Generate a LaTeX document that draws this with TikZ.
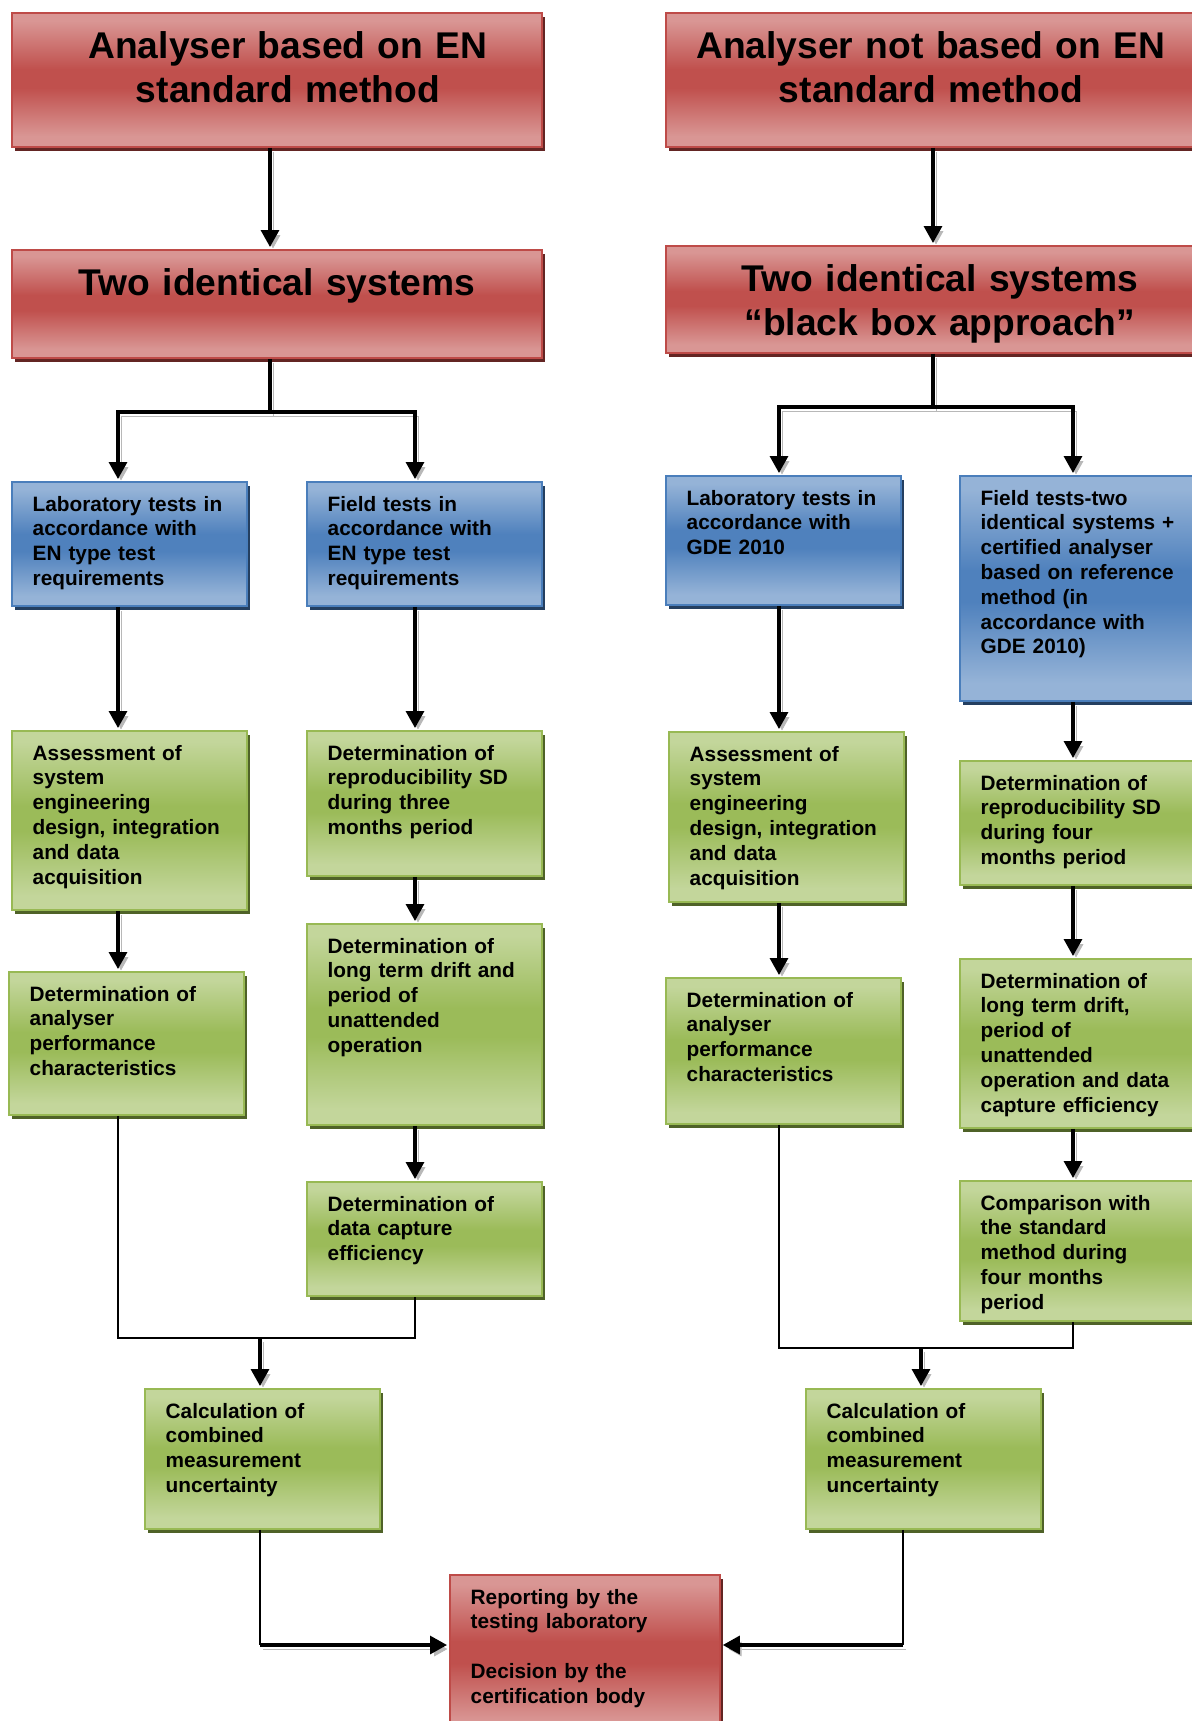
\documentclass[tikz,border=0pt]{standalone}
\usepackage{fontspec}
\setmainfont{Liberation Sans}
\usetikzlibrary{arrows.meta}
\usetikzlibrary{shadows}

\definecolor{redlt}{HTML}{D99694}
\definecolor{reddk}{HTML}{C0504D}
\definecolor{redln}{HTML}{BE4B48}
\definecolor{redsh}{HTML}{632523}
\definecolor{bluelt}{HTML}{95B3D7}
\definecolor{bluedk}{HTML}{4F81BD}
\definecolor{blueln}{HTML}{4A7EBB}
\definecolor{bluesh}{HTML}{243F60}
\definecolor{grnlt}{HTML}{C3D69B}
\definecolor{grndk}{HTML}{9BBB59}
\definecolor{grnln}{HTML}{98B954}
\definecolor{grnsh}{HTML}{4F6228}

\pgfdeclareverticalshading{redfade}{100bp}{color(0bp)=(redlt); color(29bp)=(redlt); color(47bp)=(reddk); color(54bp)=(reddk); color(72bp)=(redlt); color(100bp)=(redlt)}
\pgfdeclareverticalshading{bluefade}{100bp}{color(0bp)=(bluelt); color(29bp)=(bluelt); color(47bp)=(bluedk); color(54bp)=(bluedk); color(72bp)=(bluelt); color(100bp)=(bluelt)}
\pgfdeclareverticalshading{grnfade}{100bp}{color(0bp)=(grnlt); color(29bp)=(grnlt); color(47bp)=(grndk); color(54bp)=(grndk); color(72bp)=(grnlt); color(100bp)=(grnlt)}

\tikzset{
	box/.style = {
		rectangle,
		anchor=north west,
		inner xsep=10.4pt,
		inner ysep=6.6pt,
		text width=96.7pt,
		text height=8pt,
		align=left,
		line width=0.9pt,
		font=\fontsize{10.4}{12.4}\selectfont\bfseries
	},
	box_red/.style = {
		box,
		shade,
		shading=redfade,
		draw=redln,
		drop shadow={shadow xshift=1.5pt, shadow yshift=-2.2pt, fill=redsh, opacity=1}
	},
	box_blue/.style = {
		box,
		shade,
		shading=bluefade,
		draw=blueln,
		drop shadow={shadow xshift=1.5pt, shadow yshift=-2.2pt, fill=bluesh, opacity=1}
	},
	box_green/.style = {
		box,
		shade,
		shading=grnfade,
		draw=grnln,
		drop shadow={shadow xshift=1.5pt, shadow yshift=-2.2pt, fill=grnsh, opacity=1}
	},
	box_head/.style = {
		box_red,
		inner ysep=9pt,
		text height=14pt,
		text width=244.2pt,
		align=center,
		font=\fontsize{18.6}{22}\selectfont\bfseries
	},
	box_wide/.style = {
		text width=114.2pt
	},
	line_s/.style = {
		line width=1.6pt,
		preaction={draw=black!28, transform canvas={xshift=1.5pt, yshift=-2pt}}
	},
	conn/.style = {
		line_s,
		->,
		shorten >=1pt
	},
	wire/.style = {
		line width=0.9pt
	},
}

\begin{document}
\begin{tikzpicture}[x=0.5pt, y=-0.5pt, >={Triangle[width=9pt,length=8.5pt]}]
\useasboundingbox (0,0) rectangle (1192,1721);
\clip (0,0) rectangle (1192,1721);

% left side: EN standard method
\node [box_head, text depth=35pt] (r1) at (11,12) {\hspace*{11pt}Analyser based on EN\\\hspace*{11pt}standard method};
\node [box_head, text depth=22pt] (r2) at (11,249) {Two identical systems};
\node [box_blue, text depth=40.8pt] (b1) at (11,481) {Laboratory tests in\\accordance with\\EN type test\\requirements};
\node [box_blue, text depth=40.8pt] (b2) at (306,481) {Field tests in\\accordance with\\EN type test\\requirements};
\node [box_green, text depth=68.3pt] (g1) at (11,730) {Assessment of\\system\\engineering\\design, integration\\and data\\acquisition};
\node [box_green, text depth=50.3pt] (g2) at (8,971) {Determination of\\analyser\\performance\\characteristics};
\node [box_green, text depth=51.3pt] (g3) at (306,730) {Determination of\\reproducibility SD\\during three\\months period};
\node [box_green, text depth=79.3pt] (g4) at (306,923) {Determination of\\long term drift and\\period of\\unattended\\operation};
\node [box_green, text depth=35.8pt] (g5) at (306,1181) {Determination of\\data capture\\efficiency};
\node [box_green, text depth=48.8pt] (g6) at (144,1388) {Calculation of\\combined\\measurement\\uncertainty};

% right side: black box approach
\node [box_head, text depth=35pt] (r4) at (665,12) {Analyser not based on EN\\standard method};
\node [box_head, text depth=21.5pt] (r5) at (665,245) {\hspace*{9pt}Two identical systems\\\hspace*{9pt}“black box approach”};
\node [box_blue, text depth=43.3pt] (b3) at (665,475) {Laboratory tests in\\accordance with\\GDE 2010};
\node [box_blue, text depth=91.3pt] (b4) at (959,475) {Field tests-two\\\mbox{identical systems +}\\certified analyser\\based on reference\\method (in\\accordance with\\GDE 2010)};
\node [box_green, text depth=63.8pt] (g7) at (668,731) {Assessment of\\system\\engineering\\design, integration\\and data\\acquisition};
\node [box_green, text depth=51.8pt] (g8) at (665,977) {Determination of\\analyser\\performance\\characteristics};
\node [box_green, text depth=40.8pt] (g9) at (959,760) {Determination of\\reproducibility SD\\during four\\months period};
\node [box_green, text depth=63.3pt] (g10) at (959,958) {Determination of\\long term drift,\\period of\\unattended\\operation and data\\capture efficiency};
\node [box_green, text depth=48.8pt] (g11) at (959,1180) {Comparison with\\the standard\\method during\\four months\\period};
\node [box_green, text depth=48.8pt] (g12) at (805,1388) {Calculation of\\combined\\measurement\\uncertainty};

% common result
\node [box_red, box_wide, text depth=57.8pt] (r3) at (449,1574) {Reporting by the\\testing laboratory\\[12.4pt]Decision by the\\certification body};

% where the lines run
\coordinate (forkL) at (270,412);
\coordinate (forkR) at (933,407);
\coordinate (colA) at (118,0);
\coordinate (colB) at (415,0);
\coordinate (colC) at (779,0);
\coordinate (colD) at (1073,0);
\coordinate (joinL) at (260,1338);
\coordinate (joinR) at (921,1348);
\coordinate (footL) at (260,1645);
\coordinate (footR) at (903,1645);

% left connectors
\draw [conn] (r1.south -| forkL) -- (r2.north -| forkL);
\draw [line_s] (r2.south -| forkL) -- (forkL);
\draw [conn] (forkL) -| (b1.north -| colA);
\draw [conn] (forkL) -| (b2.north -| colB);
\draw [conn] (b1.south -| colA) -- (g1.north -| colA);
\draw [conn] (g1.south -| colA) -- (g2.north -| colA);
\draw [conn] (b2.south -| colB) -- (g3.north -| colB);
\draw [conn] (g3.south -| colB) -- (g4.north -| colB);
\draw [conn] (g4.south -| colB) -- (g5.north -| colB);
\draw [wire] (g2.south -| colA) |- (joinL) -| (g5.south -| colB);
\draw [conn] (joinL) -- (g6.north -| joinL);
\draw [wire] (g6.south -| footL) -- (footL);
\draw [conn] (footL) -- (r3.west |- footL);

% right connectors
\draw [conn] (r4.south -| forkR) -- (r5.north -| forkR);
\draw [line_s] (r5.south -| forkR) -- (forkR);
\draw [conn] (forkR) -| (b3.north -| colC);
\draw [conn] (forkR) -| (b4.north -| colD);
\draw [conn] (b3.south -| colC) -- (g7.north -| colC);
\draw [conn] (g7.south -| colC) -- (g8.north -| colC);
\draw [conn] (b4.south -| colD) -- (g9.north -| colD);
\draw [conn] (g9.south -| colD) -- (g10.north -| colD);
\draw [conn] (g10.south -| colD) -- (g11.north -| colD);
\draw [wire] (g8.south -| colC) |- (joinR) -| (g11.south -| colD);
\draw [conn] (joinR) -- (g12.north -| joinR);
\draw [wire] (g12.south -| footR) -- (footR);
\draw [conn] (footR) -- (r3.east |- footR);
\end{tikzpicture}
\end{document}
